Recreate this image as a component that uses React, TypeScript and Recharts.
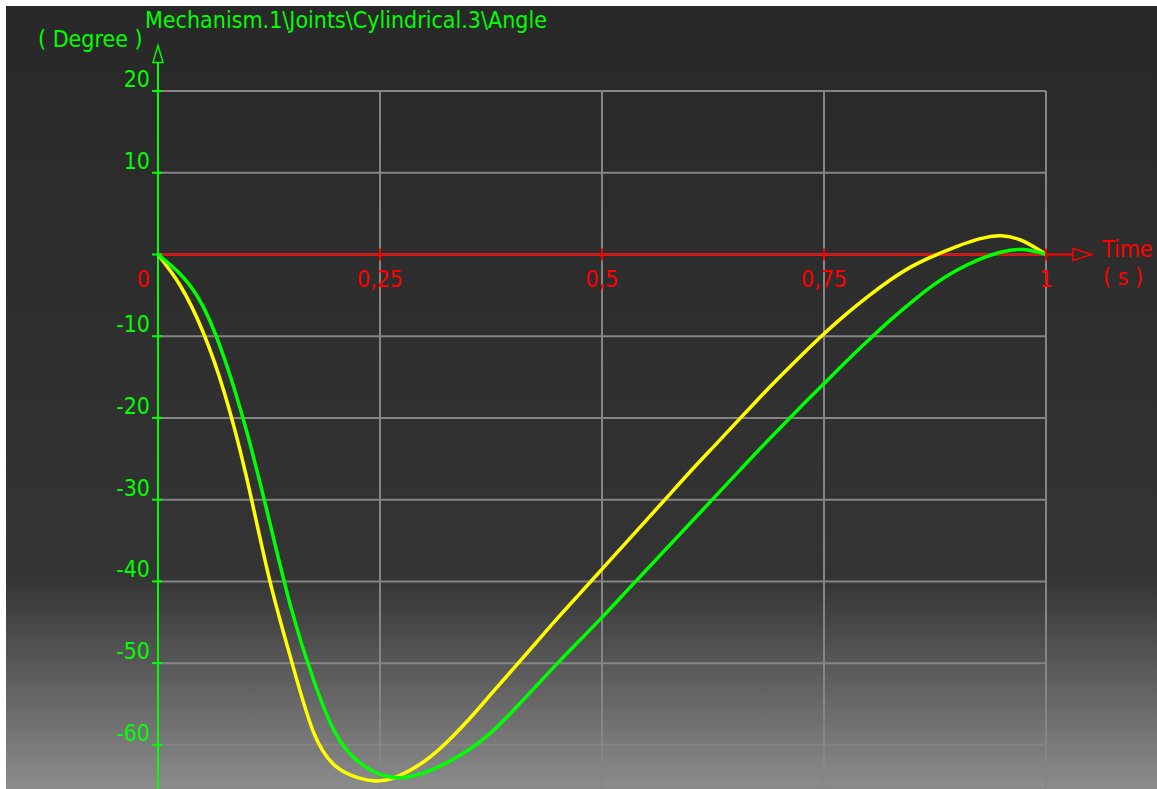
import React from 'react';
import { LineChart, Line, XAxis, YAxis, CartesianGrid, ReferenceLine, ReferenceDot } from 'recharts';

// time (s)
const timeS = [
  0, 0.025, 0.05, 0.075, 0.1, 0.125, 0.15, 0.175, 0.2, 0.225,
  0.25, 0.275, 0.3, 0.325, 0.35, 0.375, 0.4, 0.425, 0.45, 0.475,
  0.5, 0.525, 0.55, 0.575, 0.6, 0.625, 0.65, 0.675, 0.7, 0.725,
  0.75, 0.775, 0.8, 0.825, 0.85, 0.875, 0.9, 0.925, 0.95, 0.975, 1,
];
// angle (degree), yellow curve
const yellowDeg = [
  0, -3.8, -9.3, -17.0, -27.4, -39.5, -49.6, -58.4, -62.6, -64.0,
  -64.4, -63.6, -62.0, -59.7, -56.9, -53.8, -50.7, -47.6, -44.5, -41.5,
  -38.5, -35.5, -32.5, -29.5, -26.5, -23.6, -20.7, -17.8, -15.0, -12.3,
  -9.7, -7.3, -5.1, -3.1, -1.4, -0.1, 1.0, 1.9, 2.3, 1.6, 0,
];
// angle (degree), green curve
const greenDeg = [
  0, -2.4, -6.2, -12.8, -21.7, -32.4, -43.3, -52.0, -58.6, -62.0,
  -63.6, -64.0, -63.4, -62.2, -60.6, -58.5, -55.8, -52.9, -50.0, -47.2,
  -44.4, -41.5, -38.6, -35.7, -32.8, -29.9, -27.0, -24.1, -21.3, -18.5,
  -15.8, -13.1, -10.5, -8.0, -5.7, -3.6, -1.9, -0.6, 0.3, 0.6, 0,
];

const xTicks = [0, 0.25, 0.5, 0.75, 1];
const xTickLabels = ['0', '0,25', '0,5', '0,75', '1'];
const xGrid = [0.25, 0.5, 0.75, 1];
const yTicks = [20, 10, 0, -10, -20, -30, -40, -50, -60];
const yDomain = [-65.4, 20];
const xArrowBase = 1.0304;
const yArrowBase = 23.5;

const titleText = 'Mechanism.1\\Joints\\Cylindrical.3\\Angle';
const yUnitText = '( Degree )';
const xNameText = 'Time';
const xUnitText = '( s )';

const GREEN = '#00ff00';
const RED = '#ff0000';
const GRID = '#858585';
const FONT = '"Liberation Sans Narrow", "DejaVu Sans Condensed", "Liberation Sans", sans-serif';
const FS = 23;

const data = timeS.map((t, i) => ({ t, yellow: yellowDeg[i], green: greenDeg[i] }));

const YTick = (props: any) => {
  const { x, y, payload } = props;
  const v = payload.value;
  return (
    <g>
      <line x1={x + 2} x2={x + 12} y1={y} y2={y} stroke={GREEN} strokeWidth={2} />
      {v !== 0 && (
        <text x={x} y={y - 4} textAnchor="end" fill={GREEN} fontSize={FS} fontFamily={FONT}>
          {String(v)}
        </text>
      )}
    </g>
  );
};

const XTickMark = (props: any) => {
  const { cx, cy, label, first } = props;
  if (first) {
    return (
      <text x={cx - 8} y={cy + 33} textAnchor="end" fill={RED} fontSize={FS} fontFamily={FONT}>
        {label}
      </text>
    );
  }
  return (
    <g>
      <line x1={cx} x2={cx} y1={cy - 6} y2={cy + 6} stroke={RED} strokeWidth={2} />
      <text x={cx} y={cy + 33} textAnchor="middle" fill={RED} fontSize={FS} fontFamily={FONT}>
        {label}
      </text>
    </g>
  );
};

const XAxisShape = (p: any) => {
  const { x1, y1, x2 } = p;
  return (
    <g>
      <line x1={x1} y1={y1} x2={x2} y2={y1} stroke={RED} strokeWidth={2} />
      <polygon points={`${x2},${y1 - 6} ${x2 + 19},${y1} ${x2},${y1 + 6}`} fill="none" stroke={RED} strokeWidth={1.5} />
    </g>
  );
};

const YAxisShape = (p: any) => {
  const { x1, y1, y2 } = p;
  const top = Math.min(y1, y2);
  const bottom = Math.max(y1, y2);
  return (
    <g>
      <line x1={x1} y1={bottom} x2={x1} y2={top} stroke={GREEN} strokeWidth={2} />
      <polygon points={`${x1 - 5},${top} ${x1},${top - 17} ${x1 + 5},${top}`} fill="none" stroke={GREEN} strokeWidth={1.5} />
    </g>
  );
};

export default function App() {
  return (
    <div style={{ position: 'absolute', left: 0, top: 0, width: 1157, height: 789, background: '#ffffff', overflow: 'hidden' }}>
      <div
        style={{
          position: 'absolute',
          left: 6,
          top: 6,
          right: 0,
          bottom: 0,
          background: 'linear-gradient(to bottom, #282828 0%, #343434 73%, #8c8c8c 100%)',
        }}
      />
      <div style={{ position: 'absolute', left: 0, top: 0 }}>
        <LineChart width={1157} height={789} data={data} margin={{ top: 91, right: 111, bottom: 0, left: 0 }}>
          <CartesianGrid stroke={GRID} strokeWidth={2} vertical={false} />
          <XAxis dataKey="t" type="number" domain={[0, 1]} ticks={xTicks} height={0} tick={false} axisLine={false} tickLine={false} />
          <YAxis type="number" domain={yDomain} ticks={yTicks} width={158} axisLine={false} tickLine={false} tickSize={0} tickMargin={8} tick={<YTick />} interval={0} allowDataOverflow />
          {xGrid.map((t) => (
            <ReferenceLine key={`g${t}`} x={t} stroke={GRID} strokeWidth={2} />
          ))}
          <ReferenceLine segment={[{ x: 0, y: 0 }, { x: xArrowBase, y: 0 }]} ifOverflow="visible" shape={XAxisShape} />
          <ReferenceLine segment={[{ x: 0, y: yDomain[0] }, { x: 0, y: yArrowBase }]} ifOverflow="visible" shape={YAxisShape} />
          {xTicks.map((t, i) => (
            <ReferenceDot key={t} x={t} y={0} ifOverflow="visible" shape={(p: any) => <XTickMark {...p} label={xTickLabels[i]} first={i === 0} />} />
          ))}
          <Line type="natural" dataKey="yellow" stroke="#ffff00" strokeWidth={3.5} dot={false} activeDot={false} isAnimationActive={false} />
          <Line type="natural" dataKey="green" stroke="#00ff00" strokeWidth={3.5} dot={false} activeDot={false} isAnimationActive={false} />
          <text x={145} y={28} fill={GREEN} fontSize={FS} fontFamily={FONT}>{titleText}</text>
          <text x={38} y={47} fill={GREEN} fontSize={FS} fontFamily={FONT}>{yUnitText}</text>
          <text x={1102} y={257} fill={RED} fontSize={FS} fontFamily={FONT}>{xNameText}</text>
          <text x={1103} y={285} fill={RED} fontSize={FS} fontFamily={FONT}>{xUnitText}</text>
        </LineChart>
      </div>
    </div>
  );
}
